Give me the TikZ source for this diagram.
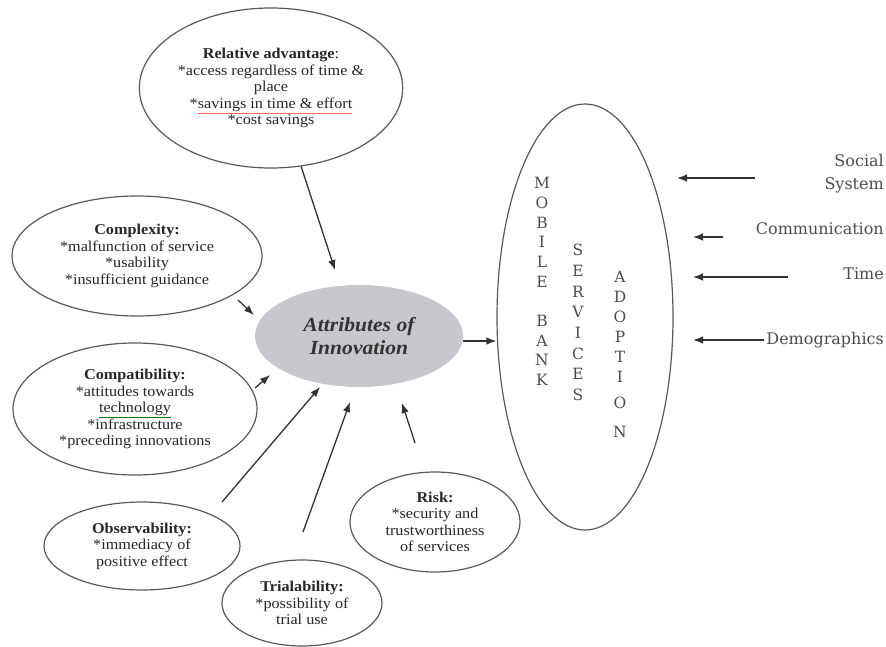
\documentclass[tikz,border=0pt]{standalone}
\usepackage{fontspec}
\setmainfont{Liberation Serif}[FakeStretch=1.08]
\newfontfamily\sidefont{DejaVu Serif}
\usetikzlibrary{arrows.meta,shapes.geometric}
\definecolor{coregray}{RGB}{199,199,205}

\begin{document}
\begin{tikzpicture}[
  x=1pt,y=-1pt,
  attrib/.style={ellipse, draw=black!65, line width=1.2pt, inner sep=0pt, align=center, font=\fontsize{15}{16.5}\selectfont, text=black!85},
  core/.style={ellipse, fill=coregray, inner sep=0pt, align=center, font=\fontsize{20}{23}\selectfont\bfseries\itshape, text=black!80},
  letters/.style={font=\sidefont\fontsize{15.5}{19.7}\selectfont, align=center, inner sep=0pt, text=black!70},
  side/.style={font=\sidefont\fontsize{16}{23}\selectfont, anchor=east, align=right, inner sep=0pt, text=black!70},
  arr/.style={-{Latex[length=10pt,width=7.5pt]}, line width=1.3pt, draw=black!80}
]
\useasboundingbox (0,0) rectangle (886,647);

% attributes around the core
\node[attrib, minimum width=262pt, minimum height=160pt] (relad) at (271,88) {\textbf{Relative advantage}:\\*access regardless of time \&\\place\\*{\color{red!60}\underline{\color{black!85}savings in time \& effort}}\\*cost savings};
\node[attrib, minimum width=250pt, minimum height=120pt] (complex) at (137,256) {\textbf{Complexity:}\\*malfunction of service\\*usability\\*insufficient guidance};
\node[attrib, minimum width=244pt, minimum height=132pt] (compat) at (135,409) {\textbf{Compatibility:}\\*attitudes towards\\{\color{green!50!black}\underline{\color{black!85}technology}}\\*infrastructure\\*preceding innovations};
\node[attrib, minimum width=196pt, minimum height=88pt] (observ) at (142,546) {\textbf{Observability:}\\*immediacy of\\positive effect};
\node[attrib, minimum width=160pt, minimum height=86pt] (trial) at (302,603) {\textbf{Trialability:}\\*possibility of\\trial use};
\node[attrib, minimum width=170pt, minimum height=100pt] (risk) at (435,522) {\textbf{Risk:}\\*security and\\trustworthiness\\of services};

\node[core, minimum width=208pt, minimum height=102pt] (attr) at (359,336) {Attributes of\\Innovation};

% adoption
\node[ellipse, draw=black!65, line width=1.2pt, minimum width=176pt, minimum height=426pt] (mbsa) at (585,317) {};
\node[letters] (mobile) at (542,281.5) {M\\O\\B\\I\\L\\E\\[19.7pt]B\\A\\N\\K};
\node[letters, font=\sidefont\fontsize{15.5}{20.7}\selectfont] (serv) at (578,322.5) {S\\E\\R\\V\\I\\C\\E\\S};
\node[letters, font=\sidefont\fontsize{15.5}{20}\selectfont] (adopt) at (620,354.5) {A\\D\\O\\P\\T\\I\\[6pt]O\\[9pt]N};

\node[side] (social) at (884,173.5) {Social\\System};
\node[side] (comm) at (884,229) {Communication};
\node[side] (time) at (884,274) {Time};
\node[side] (demo) at (884,340) {Demographics};

% arrow ends
\coordinate (ra-h) at (335,270);
\coordinate (cx-t) at (238,300); \coordinate (cx-h) at (254,315);
\coordinate (cp-t) at (255,388); \coordinate (cp-h) at (270,375);
\coordinate (ob-t) at (222,502); \coordinate (ob-h) at (320,387);
\coordinate (tr-t) at (303,532); \coordinate (tr-h) at (350,402);
\coordinate (rk-t) at (415,443); \coordinate (rk-h) at (402,403);
\coordinate (so-t) at (755,178); \coordinate (so-h) at (677,178);
\coordinate (co-t) at (723,237); \coordinate (co-h) at (693,237);
\coordinate (ti-t) at (788,277); \coordinate (ti-h) at (693,277);
\coordinate (de-h) at (693,340);

\draw[arr] (relad.-69) -- (ra-h);
\foreach \a/\b in {cx-t/cx-h,cp-t/cp-h,ob-t/ob-h,tr-t/tr-h,rk-t/rk-h,so-t/so-h,co-t/co-h,ti-t/ti-h}{\draw[arr] (\a) -- (\b);}
\draw[arr] ([xshift=-2pt]demo.west) -- (de-h);
\draw[arr] ([yshift=-5pt]attr.east) -- ([yshift=-5pt]attr.east -| mbsa.west);
\end{tikzpicture}
\end{document}
